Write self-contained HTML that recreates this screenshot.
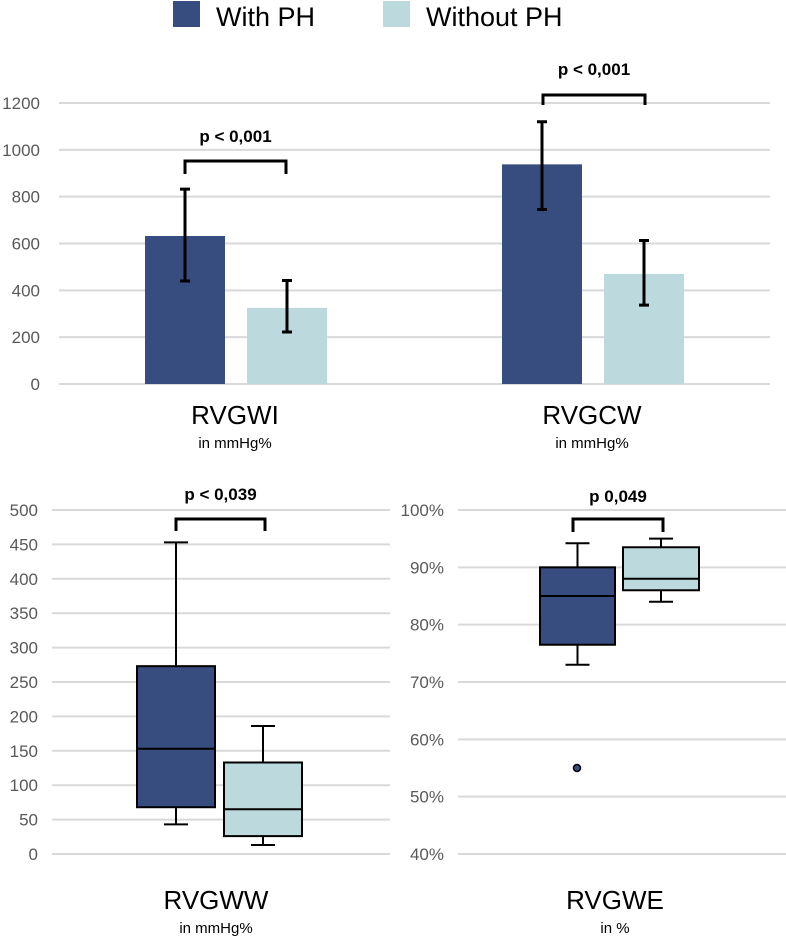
<!DOCTYPE html>
<html><head><meta charset="utf-8"><style>
body{margin:0;background:#fff;}
svg{display:block;font-family:"Liberation Sans",sans-serif;}
</style></head><body>
<svg id="c" width="786" height="939"></svg>
<script>
const barCategories=["RVGWI","RVGCW"];
const barWithPH=[632,938];
const barWithoutPH=[325,470];
const errWithLo=[440,745], errWithHi=[832,1120];
const errWithoutLo=[222,337], errWithoutHi=[442,613];
const barTicks=[0,200,400,600,800,1000,1200];
const wwTicks=[0,50,100,150,200,250,300,350,400,450,500];
const wwWith=[43,68,153,273,453];
const wwWithout=[13,26,65,133,186];
const weTicks=[40,50,60,70,80,90,100];
const weWith=[73,76.5,85,90,94.2];
const weWithout=[84,86,88,93.5,95];
const weOutliers=[55];
const DARK="#374d80",LIGHT="#bcdadd",GRID="#d9d9d9",TXT="#595959";
const svg=document.getElementById('c');
const NS="http://www.w3.org/2000/svg";
function el(t,a,p){const e=document.createElementNS(NS,t);for(const k in a)e.setAttribute(k,a[k]);(p||svg).appendChild(e);return e;}
function txt(x,y,s,a){const e=el('text',Object.assign({x:x,y:y},a));e.textContent=s;return e;}
function grid(ticks,y,x0,x1,lx,fmt){ticks.forEach(t=>{const l=el('line',{x1:x0,x2:x1,y1:y(t),y2:y(t),stroke:GRID,'stroke-width':2});


const tx=txt(lx,y(t)+6,fmt(t),{'text-anchor':'end','font-size':17,fill:TXT});

});}
function bracket(x0,x1,yt,yb,label,ty){const p=el('path',{d:`M${x0} ${yb}V${yt}H${x1}V${yb}`,fill:'none',stroke:'#000','stroke-width':3});


const t=txt((x0+x1)/2,ty,label,{'text-anchor':'middle','font-size':17,'font-weight':'bold',fill:'#000'});

}
function cat(x,y,name,unit){const a=txt(x,y,name,{'text-anchor':'middle','font-size':26,fill:'#000'});


const b=txt(x,y+24,unit,{'text-anchor':'middle','font-size':15,fill:'#000'});

}
// legend
[[173,DARK,"With PH"],[383,LIGHT,"Without PH"]].forEach(([x,c,s])=>{const r=el('rect',{x:x,y:1,width:27,height:26,fill:c});


const t=txt(x+43,26,s,{'font-size':27,fill:'#000'});

});
// top bar chart
const yb=v=>384-v*(281/1200);
grid(barTicks,yb,59,770,40,t=>t);
const groupCx=[236,593];
barCategories.forEach((c,i)=>{const cx=groupCx[i];
[[barWithPH[i],cx-91,DARK,errWithLo[i],errWithHi[i]],[barWithoutPH[i],cx+11,LIGHT,errWithoutLo[i],errWithoutHi[i]]].forEach(([v,x,col,lo,hi],j)=>{
const r=el('rect',{x:x,y:yb(v),width:80,height:yb(0)-yb(v),fill:col});


const ex=x+40;
const e=el('path',{d:`M${ex} ${yb(lo)}V${yb(hi)}M${ex-5} ${yb(lo)}H${ex+5}M${ex-5} ${yb(hi)}H${ex+5}`,stroke:'#000','stroke-width':3,fill:'none'});

});
cat(cx-1,424,c,"in mmHg%");});
bracket(185,286,161,174,"p < 0,001",142);
bracket(543,645,95,105,"p < 0,001",75);
// box plot helper
function box(d,x,w,y,col){const cx=x+w/2;
const g=el('g',{});


el('path',{d:`M${cx} ${y(d[0])}V${y(d[1])}M${cx} ${y(d[3])}V${y(d[4])}M${cx-12} ${y(d[0])}H${cx+12}M${cx-12} ${y(d[4])}H${cx+12}`,stroke:'#000','stroke-width':2,fill:'none'},g);
el('rect',{x:x,y:y(d[3]),width:w,height:y(d[1])-y(d[3]),fill:col,stroke:'#000','stroke-width':2},g);
el('line',{x1:x,x2:x+w,y1:y(d[2]),y2:y(d[2]),stroke:'#000','stroke-width':2},g);}
const yww=v=>854-v*(344/500);
grid(wwTicks,yww,52,390,38,t=>t);
box(wwWith,137,78,yww,DARK);
box(wwWithout,224,78,yww,LIGHT);
bracket(176,265,519,531,"p < 0,039",500);
cat(216,909,"RVGWW","in mmHg%");
const ywe=v=>854-(v-40)*(344/60);
grid(weTicks,ywe,458,786,444,t=>t+"%");
box(weWith,540,75,ywe,DARK);
box(weWithout,623,76,ywe,LIGHT);
weOutliers.forEach(v=>{const c=el('circle',{cx:577,cy:ywe(v),r:3.5,fill:DARK,stroke:'#000','stroke-width':1.5});

});
bracket(573,663,519,532,"p  0,049",502);
cat(615,909,"RVGWE","in %");
</script>
</body></html>
